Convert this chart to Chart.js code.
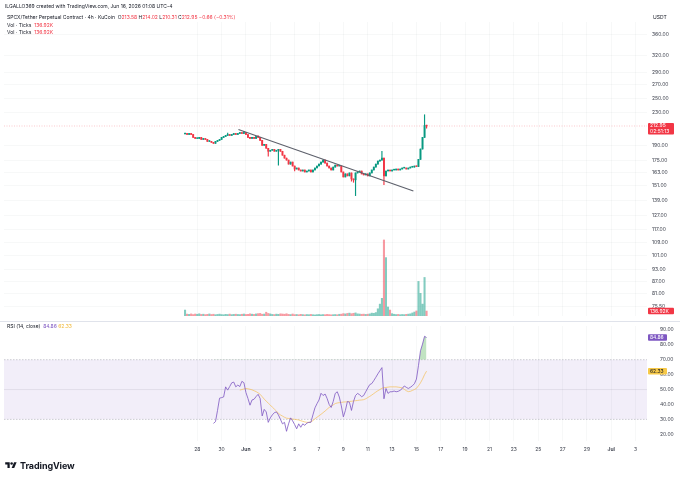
<!DOCTYPE html>
<html>
<head>
<meta charset="utf-8">
<script src="https://cdn.jsdelivr.net/npm/chart.js@4.4.1/dist/chart.umd.min.js"></script>
<style>
html, body { margin: 0; padding: 0; background: #fff; }
#wrap { position: relative; width: 680px; height: 477px; overflow: hidden; font-family: Inter, 'Noto Sans', sans-serif; color: #131722; }
canvas { position: absolute; left: 0; }
#priceCanvas { top: 0; }
#rsiCanvas { top: 318px; }
.txt { position: absolute; white-space: nowrap; font-size: 5px; line-height: 6px; }
.red { color: #f23645; }
.sep { position: absolute; left: 0; top: 321px; width: 680px; height: 1px; background: #e0e3eb; }
#logo { position: absolute; left: 5px; top: 460px; display: flex; align-items: center; }
#logo span { font-size: 9px; font-weight: 700; margin-left: 3px; letter-spacing: -0.1px; }
</style>
</head>
<body>
<div id="wrap">
  <canvas id="priceCanvas" width="680" height="324"></canvas>
  <canvas id="rsiCanvas" width="680" height="159"></canvas>
  <div class="sep"></div>

  <div class="txt" style="left:5px;top:3px">ILGALLO369 created with TradingView.com, Jun 16, 2026 01:08 UTC-4</div>
  <div class="txt" style="left:7px;top:14px">SPCX/Tether Perpetual Contract · 4h · KuCoin&nbsp; O<span class="red">213.58</span> H<span class="red">214.02</span> L<span class="red">210.31</span> C<span class="red">212.95</span> <span class="red">−0.66 (−0.31%)</span></div>
  <div class="txt" style="left:7px;top:22px">Vol · Ticks&nbsp; <span class="red">136.92K</span></div>
  <div class="txt" style="left:7px;top:29px">Vol · Ticks&nbsp; <span class="red">136.92K</span></div>
  <div class="txt" style="left:653px;top:14px">USDT</div>
  <div class="txt" style="left:7px;top:323px">RSI (14, close)&nbsp; <span style="color:#7e57c2">84.86</span> <span style="color:#f0b93a">62.33</span></div>

  <div id="logo">
    <svg width="12" height="9" viewBox="0 0 36 28"><path d="M14 22H7V11H0V4h14v18z" fill="#131722"/><circle cx="20" cy="8" r="4" fill="#131722"/><path d="M28 22h-8l7.5-18h8L28 22z" fill="#131722"/></svg>
    <span>TradingView</span>
  </div>
</div>

<script>
// 4h candles from May 27 00:00, index = bar number
const closes = [
  204.0, 202.8, 204.0, 202.8, 199.4, 198.2, 198.2, 199.4, 197.1, 198.2,
  197.1, 194.9, 194.9, 193.8, 192.7, 194.9, 196.0, 197.1, 199.4, 200.5,
  201.7, 202.8, 201.7, 202.8, 204.0, 202.8, 204.0, 205.1, 204.0, 205.1,
  202.8, 199.4, 198.2, 199.4, 198.2, 200.5, 199.4, 196.0, 190.5, 191.6,
  187.3, 184.1, 185.2, 186.2, 184.1, 185.2, 186.2, 184.1, 180.0, 177.0,
  175.0, 171.0, 173.0, 169.1, 166.2, 167.2, 165.3, 164.3, 165.3, 163.4,
  164.3, 165.3, 163.4, 165.3, 167.2, 169.1, 171.0, 173.0, 175.0, 172.0,
  169.1, 167.2, 165.3, 168.1, 170.0, 169.1, 169.1, 163.4, 158.8, 161.6,
  159.8, 162.5, 157.0, 156.2, 162.5, 163.4, 164.3, 161.6, 160.7, 161.6,
  159.8, 162.5, 165.3, 168.1, 171.0, 174.0, 175.0, 177.0, 159.8, 164.3,
  165.3, 164.3, 165.3, 165.3, 166.2, 165.3, 166.2, 167.2, 167.2, 166.2,
  167.2, 168.1, 168.1, 169.1, 168.6, 175.7, 186.5, 199.4, 213.58, 212.95
];
const firstOpen = 203.5;
// visible wicks beyond the body
const wickHighs = { 21: 204.5, 29: 206.5, 36: 201.5, 97: 184.1, 118: 227.2, 119: 214.02 };
const wickLows = { 41: 179.0, 46: 170.0, 54: 164.5, 82: 155.0, 83: 154.0, 84: 142.6, 98: 151.8, 119: 210.31 };

// volume in K
const volumes = [
  165,
  52, 45, 58, 40, 55, 48, 62, 44, 50, 38, 46, 57, 42, 49, 36, 44, 52, 40, 35, 47,
  41, 53, 38, 45, 50, 43, 39, 48, 55, 42, 46, 60, 51, 44, 58, 66, 72, 49, 54,
  105,
  70, 58, 44, 40, 52, 47, 61, 55, 49, 63, 45, 40, 56, 38, 42, 35, 47, 39, 33, 41,
  37, 44, 36, 30, 38, 42, 34, 40, 36, 45, 39, 33, 37, 41, 35, 48, 52,
  66, 58, 72, 80, 64, 75, 86, 60, 55, 48, 52, 44, 50, 58, 80, 74, 95,
  200, 330, 490, 2110, 1620, 250, 165,
  64, 48, 40, 44, 36, 42, 38, 46, 52, 60, 85, 110, 140,
  960, 630, 330, 1070, 136.92
];

// RSI(14) from bar 14, its MA from bar 27
const rsiStart = 14;
const rsiValues = [
  27.3, 28.5, 36, 44.2, 44.6, 45, 51.8, 49.6, 52, 54.5,
  55, 51.8, 53, 52, 55.5, 54.6, 48, 44, 39.5, 43,
  43.5, 45.3, 46.8, 44, 32.3, 36.7, 35, 28, 31, 33,
  34.5, 35, 33, 30, 27, 28, 22, 27, 31, 29,
  26.5, 23.7, 27, 24.7, 27, 26, 27.5, 28, 28, 33,
  37.7, 40.5, 43, 47.5, 46, 47, 44, 40, 38, 42,
  47.4, 48.5, 45, 39, 31.7, 36, 42, 41.5, 36, 42,
  46, 47.4, 46.5, 45.2, 46, 48.5, 51, 53.3, 54, 56,
  58.2, 60.5, 62.6, 64.7, 43.8, 50.7, 47.4, 48.5, 48.5, 49,
  48.5, 48.8, 49.5, 50.7, 52.4, 51.5, 50.7, 51.5, 52.5, 53.9,
  57, 66, 76, 80.5, 85.7, 84.86
];
const maStart = 27;
const maValues = [
  49.6, 50, 50.4, 50.7, 50.5, 50.2, 49.8, 49.2, 48.6, 47.8,
  46.8, 45.2, 43.6, 42.2, 40.9, 39.6, 38.2, 36.9, 35.6, 34,
  33, 32.2, 31.4, 30.8, 30.6, 30.4, 30.2, 30, 29.8, 29.6,
  29.1, 28.7, 28.3, 28, 28, 28.3, 29.2, 30.4, 31.4, 32.4,
  33.4, 34.5, 35.6, 36.8, 38, 38.9, 39.7, 40.6, 41, 41.2,
  41.4, 41.6, 41.7, 41.8, 42, 42.1, 42.3, 42.5, 42.7, 42.9,
  43, 43.2, 43.8, 44.6, 45.4, 46.3, 47.3, 48.3, 49.2, 50,
  50.9, 51.2, 51.4, 51.6, 51.8, 51.8, 51.8, 51.8, 51.6, 51.4,
  51.1, 50.2, 49.2, 48.6, 48.8, 49.4, 50, 50.8, 52.5, 54.5,
  57, 60, 62.33
];

// trend line drawn on the chart (bar, price)
const trendBars = [26.3, 112.5];
const trendPrices = [208.7, 146.5];

// axes
const priceTicks = [360, 320, 290, 270, 250, 230, 190, 175, 163, 151, 139, 127, 117, 109, 101, 93, 87, 81, 75.5];
const rsiTicks = [90, 80, 70, 60, 50, 40, 30, 20];
const dayLabels = ['28', '30', 'Jun', '3', '5', '7', '9', '11', '13', '15', '17', '19', '21', '23', '25', '27', '29', 'Jul', '3'];
const firstLabelBar = 6;     // May 28 00:00
const barsPerLabel = 12;     // 2 days
const xMin = -89.2, xMax = 227.6;
const priceMin = 71.3, priceMax = 387.6;
const volMax = 8160;
const rsiMin = 15.5, rsiMax = 92.6;

const lastClose = 212.95;
const lastRsi = 84.86, lastMa = 62.33;

const upColor = '#089981', downColor = '#f23645';
const upVol = 'rgba(8,153,129,0.5)', downVol = 'rgba(242,54,69,0.5)';
const gridColor = 'rgba(42,46,57,0.035)';
const axisText = '#3b3f4b';

Chart.defaults.font.family = "Inter, 'Noto Sans', sans-serif";
Chart.defaults.font.size = 5;

const opens = closes.map((c, i) => i === 0 ? firstOpen : closes[i - 1]);
const isUp = closes.map((c, i) => c >= opens[i]);
const bodies = closes.map((c, i) => ({ x: i, y: [opens[i], c] }));
const wicks = closes.map((c, i) => ({
  x: i,
  y: [wickLows[i] ?? Math.min(opens[i], c), wickHighs[i] ?? Math.max(opens[i], c)]
}));
const candleColors = isUp.map(u => u ? upColor : downColor);
const volData = volumes.map((v, i) => ({ x: i, y: v }));
const volColors = isUp.map(u => u ? upVol : downVol);
const trendData = trendBars.map((b, i) => ({ x: b, y: trendPrices[i] }));
const rsiData = rsiValues.map((v, k) => ({ x: rsiStart + k, y: v }));
const maData = maValues.map((v, k) => ({ x: maStart + k, y: v }));

const labelAt = {};
dayLabels.forEach((l, k) => { labelAt[firstLabelBar + k * barsPerLabel] = l; });
function dayTicks(scale) {
  scale.ticks = dayLabels.map((l, k) => ({ value: firstLabelBar + k * barsPerLabel }));
}

function drawTag(ctx, x, yc, w, h, bg, fg, lines) {
  ctx.save();
  ctx.fillStyle = bg;
  ctx.beginPath();
  ctx.roundRect(x, yc - h / 2, w, h, 1);
  ctx.fill();
  ctx.fillStyle = fg;
  ctx.font = "5px Inter, 'Noto Sans', sans-serif";
  ctx.textBaseline = 'middle';
  ctx.textAlign = 'left';
  lines.forEach((t, k) => ctx.fillText(t, x + 2, yc - (lines.length - 1) * 2.75 + k * 5.5));
  ctx.restore();
}

const pricePane = {
  id: 'pricePane',
  beforeDatasetsDraw(chart) {
    const { ctx, chartArea, scales } = chart;
    const y = scales.y.getPixelForValue(lastClose);
    ctx.save();
    ctx.strokeStyle = 'rgba(242,54,69,0.45)';
    ctx.lineWidth = 0.6;
    ctx.setLineDash([1, 1.5]);
    ctx.beginPath();
    ctx.moveTo(chartArea.left, y);
    ctx.lineTo(chartArea.right, y);
    ctx.stroke();
    ctx.restore();
  },
  afterDraw(chart) {
    const { ctx, chartArea, scales } = chart;
    const x = chartArea.right + 1;
    const yp = scales.y.getPixelForValue(lastClose);
    drawTag(ctx, x, yp + 2.7, 26, 11.5, '#f23645', '#fff', ['212.95', '02:51:13']);
    const yv = scales.vol.getPixelForValue(volumes[volumes.length - 1]);
    drawTag(ctx, x, yv, 26, 6.5, '#f23645', '#fff', ['136.92K']);
  }
};

const rsiPane = {
  id: 'rsiPane',
  beforeDatasetsDraw(chart) {
    const { ctx, chartArea, scales } = chart;
    const y70 = scales.y.getPixelForValue(70);
    const y50 = scales.y.getPixelForValue(50);
    const y30 = scales.y.getPixelForValue(30);
    ctx.save();
    ctx.fillStyle = 'rgba(126,87,194,0.1)';
    ctx.fillRect(chartArea.left, y70, chartArea.right - chartArea.left, y30 - y70);
    ctx.strokeStyle = 'rgba(120,123,134,0.18)';
    ctx.lineWidth = 0.8;
    ctx.beginPath();
    ctx.moveTo(chartArea.left, y50);
    ctx.lineTo(chartArea.right, y50);
    ctx.stroke();
    ctx.strokeStyle = 'rgba(120,123,134,0.6)';
    ctx.lineWidth = 0.6;
    ctx.setLineDash([1.5, 1.5]);
    [y70, y30].forEach(y => {
      ctx.beginPath();
      ctx.moveTo(chartArea.left, y);
      ctx.lineTo(chartArea.right, y);
      ctx.stroke();
    });
    ctx.restore();
  },
  afterDraw(chart) {
    const { ctx, chartArea, scales } = chart;
    const x = chartArea.right + 1;
    drawTag(ctx, x, scales.y.getPixelForValue(lastRsi), 19, 6.5, '#7e57c2', '#fff', ['84.86']);
    drawTag(ctx, x, scales.y.getPixelForValue(lastMa), 19, 6.5, '#f7c948', '#131722', ['62.33']);
  }
};

new Chart(document.getElementById('priceCanvas'), {
  type: 'bar',
  data: {
    datasets: [
      { type: 'line', data: trendData, yAxisID: 'y', borderColor: '#5d606b', borderWidth: 1.1, pointRadius: 0, order: 0 },
      { data: bodies, yAxisID: 'y', backgroundColor: candleColors, barThickness: 1.25, minBarLength: 0.8, grouped: false, order: 1 },
      { data: wicks, yAxisID: 'y', backgroundColor: candleColors, barThickness: 0.5, minBarLength: 0.5, grouped: false, order: 2 },
      { data: volData, yAxisID: 'vol', backgroundColor: volColors, barThickness: 1.4, grouped: false, order: 3 }
    ]
  },
  options: {
    responsive: false,
    animation: false,
    layout: { padding: { top: 22, left: 4, right: 0, bottom: 4 } },
    plugins: { legend: { display: false }, tooltip: { enabled: false } },
    scales: {
      x: {
        type: 'linear', min: xMin, max: xMax, bounds: 'data', offset: false,
        grid: { offset: false, color: gridColor, drawTicks: false },
        border: { display: false },
        ticks: { display: false },
        afterBuildTicks: dayTicks,
        afterFit(s) { s.height = 0; }
      },
      y: {
        type: 'logarithmic', position: 'right', min: priceMin, max: priceMax, bounds: 'data',
        grid: { color: gridColor, drawTicks: false },
        border: { display: false },
        ticks: { padding: 5, color: axisText, autoSkip: false, callback: v => Number(v).toFixed(2) },
        afterBuildTicks(s) { s.ticks = priceTicks.map(v => ({ value: v })); },
        afterFit(s) { s.width = 33; }
      },
      vol: { type: 'linear', display: false, min: 0, max: volMax }
    }
  },
  plugins: [pricePane]
});

new Chart(document.getElementById('rsiCanvas'), {
  type: 'line',
  data: {
    datasets: [
      {
        data: rsiData, borderColor: '#7e57c2', borderWidth: 0.8, pointRadius: 0, tension: 0,
        fill: { target: { value: 70 }, above: 'rgba(76,175,80,0.35)', below: 'rgba(0,0,0,0)' }, order: 0
      },
      { data: maData, borderColor: 'rgba(244,190,80,0.75)', borderWidth: 0.9, pointRadius: 0, tension: 0, fill: false, order: 1 }
    ]
  },
  options: {
    responsive: false,
    animation: false,
    layout: { padding: { top: 4, left: 4, right: 0, bottom: 20 } },
    plugins: { legend: { display: false }, tooltip: { enabled: false } },
    scales: {
      x: {
        type: 'linear', min: xMin, max: xMax, bounds: 'data', offset: false,
        grid: { color: gridColor, drawTicks: false },
        border: { display: false },
        ticks: {
          padding: 5, color: axisText, autoSkip: false, maxRotation: 0,
          callback: v => labelAt[v] ?? '',
          font: c => ({ size: 5, weight: (labelAt[c.tick && c.tick.value] === 'Jun' || labelAt[c.tick && c.tick.value] === 'Jul') ? 'bold' : 'normal' })
        },
        afterBuildTicks: dayTicks,
        afterFit(s) { s.height = 16; }
      },
      y: {
        type: 'linear', position: 'right', min: rsiMin, max: rsiMax, bounds: 'data',
        grid: { display: false },
        border: { display: false },
        ticks: { padding: 5, color: axisText, autoSkip: false, callback: v => Number(v).toFixed(2) },
        afterBuildTicks(s) { s.ticks = rsiTicks.map(v => ({ value: v })); },
        afterFit(s) { s.width = 33; }
      }
    }
  },
  plugins: [rsiPane]
});
</script>
</body>
</html>
